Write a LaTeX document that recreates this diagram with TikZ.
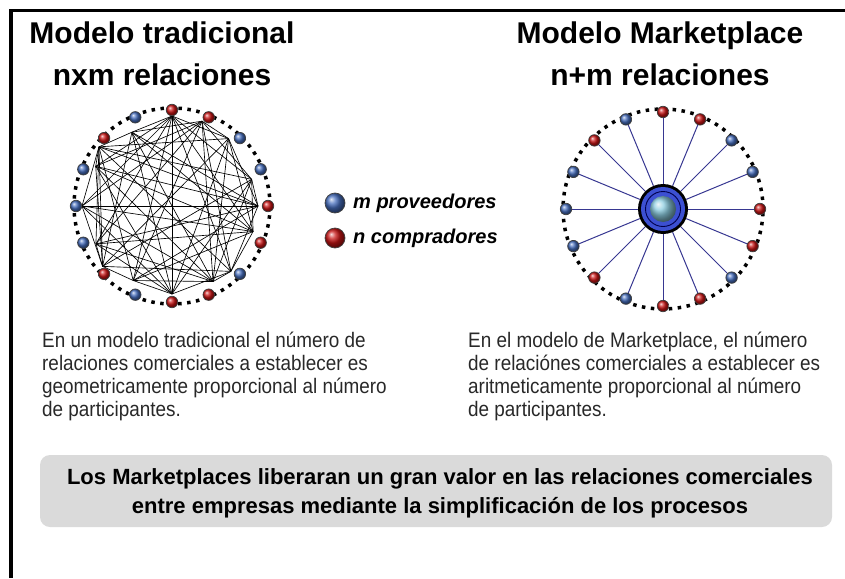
\documentclass[tikz,border=0pt]{standalone}
\usepackage{fontspec}
\setmainfont{Liberation Sans}
\newfontfamily\narrowsans[FakeStretch=0.9]{Liberation Sans}
\usetikzlibrary{calc}
\definecolor{nodeblue}{RGB}{70,110,190}
\definecolor{nodered}{RGB}{200,20,20}
\definecolor{spoke}{RGB}{55,55,145}
\definecolor{hubblue}{RGB}{60,80,210}
\definecolor{globe}{RGB}{140,205,225}
\definecolor{boxgray}{RGB}{218,218,218}
\definecolor{paratext}{RGB}{40,40,40}
\begin{document}
\begin{tikzpicture}[x=1pt,y=-1pt,
  ttl/.style={font=\fontsize{30}{32}\selectfont\bfseries, anchor=base, inner sep=0},
  para/.style={font=\narrowsans\fontsize{21}{24}\selectfont, anchor=base west, inner sep=0, text=paratext},
  boxtxt/.style={font=\fontsize{22}{24}\selectfont\bfseries, anchor=base, inner sep=0},
  leg/.style={font=\fontsize{20}{22}\selectfont\bfseries\itshape, anchor=west, inner sep=0},
  bluenode/.style={circle, inner sep=0, minimum size=11.5pt, shade, ball color=nodeblue, draw=black!75, line width=0.7pt},
  rednode/.style={circle, inner sep=0, minimum size=11.5pt, shade, ball color=nodered, draw=black!75, line width=0.7pt},
  ring/.style={line width=3.5pt, dash pattern=on 3.5pt off 5.5pt},
  link/.style={line width=0.65pt, black},
  spokeline/.style={line width=1pt, spoke},
]
\useasboundingbox (0,0) rectangle (845,578);
% frame
\draw[line width=3.5pt] (11,578) -- (11,10.5) -- (845,10.5);
% titles
\node[ttl] (t1a) at (162,44) {Modelo tradicional};
\node[ttl] (t1b) at (162,85) {nxm relaciones};
\node[ttl] (t2a) at (660,44) {Modelo Marketplace};
\node[ttl] (t2b) at (660,85) {n+m relaciones};
% left network
\coordinate (LC) at (172,206);
\foreach \k/\ri/\da in {0/86/0,1/84/-4,2/88/5,3/90/3,4/90/0,5/84/6,6/94/6,7/86/-5,8/90/0,9/85/4,10/92/-4,11/84/-5,12/88/0,13/86/6,14/88/-3,15/85/5}{
  \coordinate (Lp\k) at ([shift={(LC)}] {\k*22.5}:96pt);
  \coordinate (Li\k) at ([shift={(LC)}] {\k*22.5+\da}:\ri pt);
}
\foreach \r in {0,3,4,6,10,12,13,15}
  \foreach \b in {1,2,5,7,8,9,11,14}
    \draw[link] (Li\r) -- (Li\b);
\foreach \a/\b in {4/12,6/10,3/13,0/6,15/4}
  \draw[link] (Li\a) -- (Li\b);
\draw[ring] (LC) circle (98pt);
\foreach \k/\c in {0/rednode,1/bluenode,2/bluenode,3/rednode,4/rednode,5/bluenode,6/rednode,7/bluenode,8/bluenode,9/bluenode,10/rednode,11/bluenode,12/rednode,13/rednode,14/bluenode,15/rednode}
  \node[\c] (L\k) at (Lp\k) {};
% right network
\coordinate (RC) at (663,209);
\foreach \k in {0,...,15}
  \coordinate (Rp\k) at ([shift={(RC)}] {\k*22.5}:97pt);
\draw[ring] (RC) circle (100pt);
\node[circle, fill=black, minimum size=50pt, inner sep=0] (hub) at (RC) {};
\foreach \k in {0,...,15}
  \draw[spokeline] (hub) -- (Rp\k);
\fill[hubblue] (hub.center) circle (22pt);
\draw[black!70!blue, line width=0.9pt] (hub.center) circle (17.5pt);
\shade[ball color=globe] (hub.center) circle (13pt);
\foreach \k/\c in {0/rednode,1/bluenode,2/bluenode,3/rednode,4/rednode,5/bluenode,6/rednode,7/bluenode,8/bluenode,9/bluenode,10/rednode,11/bluenode,12/rednode,13/rednode,14/bluenode,15/rednode}
  \node[\c] (R\k) at (Rp\k) {};
% legend
\node[bluenode, minimum size=20pt] (legb) at (335,203) {};
\node[leg] (legbt) at (353,203) {m proveedores};
\node[rednode, minimum size=20pt] (legr) at (335,238) {};
\node[leg] (legrt) at (353,238) {n compradores};
% paragraphs
\node[para] (pl1) at (42,347) {En un modelo tradicional el número de};
\node[para] (pl2) at (42,370) {relaciones comerciales a establecer es};
\node[para] (pl3) at (42,393) {geometricamente proporcional al número};
\node[para] (pl4) at (42,416) {de participantes.};
\node[para] (pr1) at (468,347) {En el modelo de Marketplace, el número};
\node[para] (pr2) at (468,370) {de relaciónes comerciales a establecer es};
\node[para] (pr3) at (468,393) {aritmeticamente proporcional al número};
\node[para] (pr4) at (468,416) {de participantes.};
% bottom box
\node[fill=boxgray, rounded corners=10pt, minimum width=792pt, minimum height=72pt, inner sep=0] (box) at (436,491) {};
\node[boxtxt] (b1) at (440,484) {Los Marketplaces liberaran un gran valor en las relaciones comerciales};
\node[boxtxt] (b2) at (440,513) {entre empresas mediante la simplificación de los procesos};
\end{tikzpicture}
\end{document}
